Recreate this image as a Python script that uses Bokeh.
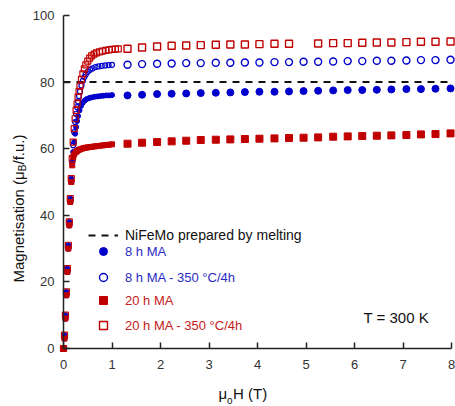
import math
from bokeh.plotting import figure
from bokeh.models import Range1d, Label, Legend, LegendItem
from bokeh.embed import file_html
from bokeh.resources import INLINE

FONT = "Liberation Sans"
BLUE = "#0000cc"
RED = "#c00000"
BLUE_TXT = "#2a2ac4"
RED_TXT = "#c42020"

# ---------------- data ----------------
x_ticks = [0, 1, 2, 3, 4, 5, 6, 7, 8]
y_ticks = [0, 20, 40, 60, 80, 100]
x_bounds = (0, 8)
y_bounds = (0, 100)

# reference level of the melted alloy
melt_field = [0.0, 8.0]
melt_m = [80.0, 80.0]

# high-field points (mu0H, T)
hf_field = [1.32, 1.62, 1.93, 2.23, 2.53, 2.83, 3.14, 3.44, 3.74, 4.04, 4.35, 4.65,
            4.95, 5.25, 5.56, 5.86, 6.16, 6.46, 6.76, 7.07, 7.37, 7.67, 7.98]
hf_field_20h_ann = [1.32, 1.62, 1.93, 2.23, 2.53, 2.83, 3.14, 3.44, 3.74, 4.04, 4.35, 4.65,
                    5.25, 5.56, 5.86, 6.16, 6.46, 6.76, 7.07, 7.37, 7.67, 7.98]

hf_8h = [76.0, 76.2, 76.4, 76.5, 76.6, 76.7, 76.8, 76.9, 77.0, 77.1, 77.1, 77.2,
         77.3, 77.4, 77.5, 77.6, 77.6, 77.7, 77.8, 77.9, 77.9, 78.0, 78.1]
hf_8h_ann = [85.2, 85.4, 85.5, 85.6, 85.7, 85.7, 85.8, 85.8, 85.9, 85.9, 86.0, 86.0,
             86.1, 86.1, 86.2, 86.3, 86.3, 86.4, 86.4, 86.5, 86.6, 86.6, 86.7]
hf_20h = [61.5, 61.8, 62.0, 62.2, 62.4, 62.6, 62.7, 62.8, 62.9, 63.0, 63.1, 63.2,
          63.3, 63.4, 63.6, 63.7, 63.8, 63.9, 64.0, 64.1, 64.3, 64.4, 64.6]
hf_20h_ann = [90.0, 90.4, 90.7, 90.9, 91.0, 91.1, 91.2, 91.3, 91.3, 91.4, 91.5, 91.5,
              91.6, 91.7, 91.7, 91.8, 91.9, 91.9, 92.0, 92.1, 92.1, 92.2]

# low-field points
lf_field_8h = [0.0, 0.02, 0.04, 0.06, 0.08, 0.10, 0.12, 0.14, 0.16, 0.18, 0.20, 0.22,
               0.24, 0.26, 0.28, 0.30, 0.33, 0.36, 0.40, 0.44, 0.48, 0.53, 0.58, 0.64,
               0.70, 0.76, 0.82, 0.88, 0.94, 1.0]
lf_8h = [0, 4, 10, 17, 24, 31, 38, 45, 51, 56, 59, 62,
         64.5, 66.5, 68.3, 69.8, 71.5, 72.8, 73.8, 74.5, 74.9, 75.2, 75.4, 75.6,
         75.7, 75.8, 75.9, 76.0, 76.0, 76.1]

lf_field_8h_ann = [0.0, 0.02, 0.04, 0.06, 0.08, 0.10, 0.12, 0.14, 0.16, 0.18, 0.20, 0.22,
                   0.24, 0.26, 0.28, 0.30, 0.32, 0.34, 0.37, 0.40, 0.43, 0.46, 0.50, 0.55,
                   0.60, 0.66, 0.72, 0.79, 0.86, 0.93, 1.0]
lf_8h_ann = [0, 3, 9, 16, 23, 30, 37, 44, 50, 56, 61, 65,
             68, 70.5, 72.5, 74.2, 75.8, 77.2, 79.0, 80.4, 81.5, 82.3, 83.1, 83.7,
             84.1, 84.5, 84.7, 84.9, 85.0, 85.1, 85.2]

lf_field_20h = [0.0, 0.02, 0.04, 0.06, 0.08, 0.10, 0.12, 0.14, 0.16, 0.18, 0.20, 0.22,
                0.25, 0.28, 0.31, 0.34, 0.38, 0.42, 0.46, 0.50, 0.55, 0.60, 0.65, 0.70,
                0.76, 0.82, 0.88, 0.94, 1.0]
lf_20h = [0, 3, 9, 16, 23, 30, 37, 44, 50, 55, 57.5, 58.3,
          58.9, 59.3, 59.6, 59.8, 60.0, 60.2, 60.3, 60.4, 60.5, 60.6, 60.7, 60.8,
          60.9, 61.0, 61.1, 61.2, 61.3]

lf_field_20h_ann = [0.0, 0.02, 0.04, 0.06, 0.08, 0.10, 0.12, 0.14, 0.16, 0.18, 0.20, 0.22,
                    0.24, 0.26, 0.28, 0.30, 0.32, 0.34, 0.37, 0.40, 0.43, 0.46, 0.50, 0.54,
                    0.58, 0.63, 0.68, 0.74, 0.80, 0.87, 0.94, 1.0, 1.07, 1.13]
lf_20h_ann = [0, 4, 10, 17, 24, 31, 38, 45, 51, 57, 62, 66,
              69, 71.5, 73.5, 75.5, 77.2, 78.8, 80.8, 82.5, 84.0, 85.2, 86.3, 87.2,
              87.9, 88.4, 88.8, 89.1, 89.3, 89.5, 89.7, 89.8, 89.9, 90.0]

labels = ["NiFeMo prepared by melting", "8 h MA", "8 h MA - 350 °C/4h",
          "20 h MA", "20 h MA - 350 °C/4h"]

# ---------------- layout geometry (pixels) ----------------
W, H = 455, 406
X0 = 63.0       # pixel column of field = 0
XS = 48.5       # pixels per tesla
Y0 = 348.0      # pixel row of M = 0 (from top)
YS = 3.33       # pixels per mu_B/f.u.

def xd(px):
    return (px - X0) / XS

def yd(py):
    return (Y0 - py) / YS

# the frame covers the whole canvas; the axes are pinned at 0 with bounds
p = figure(width=W, height=H, output_backend="svg", toolbar_location=None,
           x_range=Range1d(xd(0), xd(W)), y_range=Range1d(yd(H), yd(0)),
           min_border_left=0, min_border_right=0, min_border_top=0, min_border_bottom=0)
p.background_fill_color = "white"
p.border_fill_color = "white"
p.outline_line_color = None
p.xgrid.visible = False
p.ygrid.visible = False

for ax in (p.xaxis, p.yaxis):
    ax.fixed_location = 0
    ax.axis_line_color = "#222222"
    ax.axis_line_width = 1.5
    ax.major_tick_line_color = "#222222"
    ax.major_tick_line_width = 1.5
    ax.major_tick_in = 6
    ax.major_tick_out = 0
    ax.minor_tick_in = 0
    ax.minor_tick_out = 0
    ax.major_label_text_font = FONT
    ax.major_label_text_font_size = "13px"
    ax.major_label_text_color = "#333333"
p.xaxis.bounds = x_bounds
p.yaxis.bounds = y_bounds
p.xaxis.ticker = x_ticks
p.yaxis.ticker = y_ticks
p.xaxis.major_label_standoff = 11
p.yaxis.major_label_standoff = 9

r_melt = p.line(melt_field, melt_m, line_color="#111111", line_width=2, line_dash="7 6")

p.scatter(lf_field_8h, lf_8h, marker="circle", size=5, fill_color=BLUE, line_color=BLUE)
r_8h = p.scatter(hf_field, hf_8h, marker="circle", size=7, fill_color=BLUE, line_color=BLUE)

p.scatter(lf_field_8h_ann, lf_8h_ann, marker="circle", size=5, fill_color=None,
          line_color=BLUE, line_width=1.2)
r_8h_ann = p.scatter(hf_field, hf_8h_ann, marker="circle", size=7, fill_color=None,
                     line_color=BLUE, line_width=1.4)

p.scatter(lf_field_20h, lf_20h, marker="square", size=5, fill_color=RED, line_color=RED)
r_20h = p.scatter(hf_field, hf_20h, marker="square", size=7, fill_color=RED, line_color=RED)

p.scatter(lf_field_20h_ann, lf_20h_ann, marker="square", size=6, fill_color=None,
          line_color=RED, line_width=1.2)
r_20h_ann = p.scatter(hf_field_20h_ann, hf_20h_ann, marker="square", size=7, fill_color=None,
                      line_color=RED, line_width=1.4)

# ---------------- legend (one per entry for per-entry text colour) ----------------
entries = [
    (labels[0], r_melt, "#111111", "14px", 235),
    (labels[1], r_8h, BLUE_TXT, "13px", 251),
    (labels[2], r_8h_ann, BLUE_TXT, "13px", 277),
    (labels[3], r_20h, RED_TXT, "13px", 300),
    (labels[4], r_20h_ann, RED_TXT, "13px", 325),
]
for lab, rend, col, fs, cy in entries:
    lg = Legend(items=[LegendItem(label=lab, renderers=[rend])],
                location=(88, H - (cy + 10)),
                padding=0, margin=0, spacing=0, glyph_width=30, glyph_height=20,
                label_height=20, label_standoff=7, border_line_alpha=0,
                background_fill_alpha=0, label_text_font=FONT, label_text_font_size=fs,
                label_text_color=col, label_text_baseline="middle")
    p.add_layout(lg)

# ---------------- texts ----------------
def label(px, py, text, size, angle=0.0):
    p.add_layout(Label(x=xd(px), y=yd(py), text=text, angle=angle, text_font=FONT,
                       text_font_size=size, text_color="#111111",
                       text_baseline="middle", text_align="left"))

label(363, 317, "T = 300 K", "15px")

# x axis title: mu_o H (T)
label(218, 393, "μ", "15px")
label(226.6, 400, "o", "10px")
label(232.5, 393, "H (T)", "15px")

# y axis title: Magnetisation (mu_B/f.u.)
ang = math.pi / 2
label(18, 282, "Magnetisation (μ", "15px", ang)
label(22, 170.8, "B", "10px", ang)
label(18, 164, "/f.u.)", "15px", ang)

open("out.html", "w").write(file_html(p, INLINE))
